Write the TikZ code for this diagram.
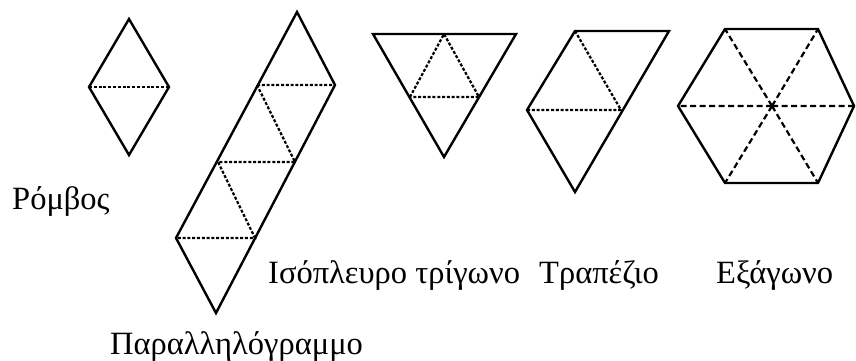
\documentclass[tikz,border=0pt]{standalone}
\usepackage{fontspec}
\setmainfont{Liberation Serif}
\begin{document}
\begin{tikzpicture}[x=1pt,y=-1pt,
  solid edge/.style={line width=2.4pt,line join=miter,black},
  dashed edge/.style={line width=2.2pt,dash pattern=on 3pt off 1.8pt,black},
  long dashed edge/.style={line width=2.2pt,dash pattern=on 6pt off 3.5pt,black},
  label/.style={anchor=base west,inner sep=0pt,font=\fontsize{32.5}{38}\selectfont}]
\useasboundingbox (0,0) rectangle (856,361);
% Rhombus
\coordinate (rT) at (129,19);
\coordinate (rL) at (89,87);
\coordinate (rR) at (169,87);
\coordinate (rB) at (129,155);
\draw[dashed edge] (rL) -- (rR);
\draw[solid edge] (rT) -- (rR) -- (rB) -- (rL) -- cycle;
% Parallelogram
\coordinate (pT) at (297,12);
\coordinate (pR1) at (335,85);
\coordinate (pL1) at (257,85);
\coordinate (pR2) at (295,162);
\coordinate (pL2) at (218,162);
\coordinate (pR3) at (255,238);
\coordinate (pL3) at (176,238);
\coordinate (pB) at (216,313);
\draw[dashed edge] (pL1) -- (pR1) (pL1) -- (pR2) -- (pL2) -- (pR3) -- (pL3);
\draw[solid edge] (pT) -- (pR1) -- (pB) -- (pL3) -- cycle;
% Equilateral triangle
\coordinate (tL) at (373,34);
\coordinate (tR) at (516,34);
\coordinate (tB) at (444,157);
\coordinate (tM) at (444,34);
\coordinate (tML) at (410,97);
\coordinate (tMR) at (479,97);
\draw[dashed edge] (tML) -- (tM) -- (tMR) -- cycle;
\draw[solid edge] (tL) -- (tR) -- (tB) -- cycle;
% Trapezoid
\coordinate (zTL) at (575,31);
\coordinate (zTR) at (669,31);
\coordinate (zL) at (527,110);
\coordinate (zM) at (621,110);
\coordinate (zB) at (575,192);
\draw[dashed edge] (zTL) -- (zM) -- (zL);
\draw[solid edge] (zTL) -- (zTR) -- (zB) -- (zL) -- cycle;
% Hexagon
\coordinate (hTL) at (725,29);
\coordinate (hTR) at (818,29);
\coordinate (hR) at (854,106);
\coordinate (hBR) at (818,183);
\coordinate (hBL) at (725,183);
\coordinate (hL) at (678,106);
\coordinate (hC) at (772,106);
\draw[long dashed edge] (hC) -- (hTL) (hC) -- (hTR) (hC) -- (hR) (hC) -- (hBR) (hC) -- (hBL) (hC) -- (hL);
\draw[solid edge] (hTL) -- (hTR) -- (hR) -- (hBR) -- (hBL) -- (hL) -- cycle;
% Labels
\node[label] (lr) at (12,209) {Ρόμβος};
\node[label] (li) at (268,283) {Ισόπλευρο τρίγωνο};
\node[label] (lt) at (539,283) {Τραπέζιο};
\node[label] (le) at (716,283) {Εξάγωνο};
\node[label] (lp) at (110,354) {Παραλληλόγραμμο};
\end{tikzpicture}
\end{document}
